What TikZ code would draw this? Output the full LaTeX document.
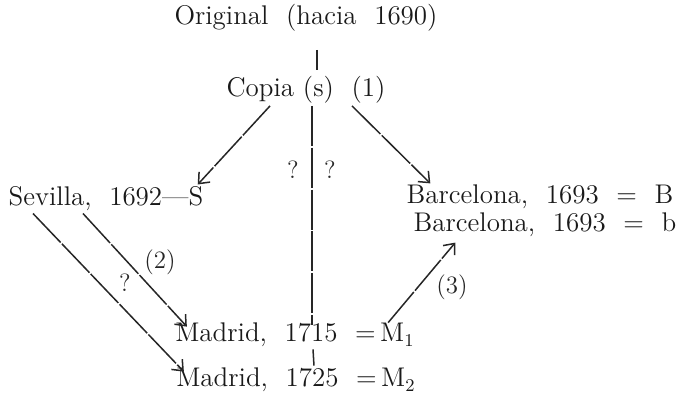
\documentclass[tikz,border=0pt]{standalone}
\usetikzlibrary{arrows.meta}
\begin{document}
\begin{tikzpicture}[x=0.5pt,y=-0.5pt,
    lbl/.style={inner sep=1pt, text=black!90, font=\fontsize{13.5}{15}\selectfont},
    tight/.style={lbl, inner sep=0pt, text height=9pt, text depth=1.2pt},
    note/.style={inner sep=1pt, text=black!85, font=\fontsize{12.5}{14}\selectfont},
    link/.style={line width=0.75pt, draw=black!85, dash pattern=on 20pt off 0.9pt},
    arrow/.style={link, -{Straight Barb[length=4.5pt,width=7.5pt]}}
  ]
  \useasboundingbox (0,0) rectangle (677,397);

  % stemma
  \node[lbl] (orig) at (306,18) {Original\ \ (hacia\ \ 1690)};
  \node[lbl] (copia) at (306,90) {Copia (s)\ \ (1)};
  \node[lbl] (sev) at (106,199) {Sevilla,\ \ 1692---S};
  \node[tight] (barB) at (540,196) {Barcelona,\ \ 1693\ \ =\ \ B};
  \node[tight] (barb) at (545,224) {Barcelona,\ \ 1693\ \ =\ \ b};
  \node[lbl] (mad1) at (295,335) {Madrid,\ \ 1715\ \ =\,M$_1$};
  \node[lbl] (mad2) at (296,380) {Madrid,\ \ 1725\ \ =\,M$_2$};

  % marcas
  \node[note] (q1) at (293,170) {?};
  \node[note] (q2) at (330,170) {?};
  \node[note] (q3) at (125,283) {?};
  \node[note] (n2) at (160,262) {(2)};
  \node[note] (n3) at (452,287) {(3)};

  % lineas
  \draw[line width=0.75pt, black!85] ([xshift=5.5pt,yshift=-8pt]orig.south) -- ([xshift=5.5pt,yshift=2pt]copia.north);
  \draw[arrow] ([xshift=-18pt]copia.south) -- ([xshift=-4pt]sev.north east);
  \draw[link] ([xshift=3pt]copia.south) -- ([xshift=8.5pt,yshift=-2pt]mad1.north);
  \draw[arrow] ([xshift=23pt]copia.south) -- ([xshift=12pt,yshift=1pt]barB.north west);
  \draw[arrow] ([xshift=-11.5pt]sev.south) -- ([xshift=7pt,yshift=-3pt]mad1.north west);
  \draw[arrow] ([xshift=-36.5pt]sev.south) -- ([xshift=5pt,yshift=-3pt]mad2.north west);
  \draw[line width=0.75pt, black!85] ([xshift=9pt]mad1.south) -- ([xshift=9pt]mad2.north);
  \draw[arrow] ([xshift=-14.5pt,yshift=-1pt]mad1.north east) -- ([xshift=21pt,yshift=-4pt]barb.south west);
\end{tikzpicture}
\end{document}
